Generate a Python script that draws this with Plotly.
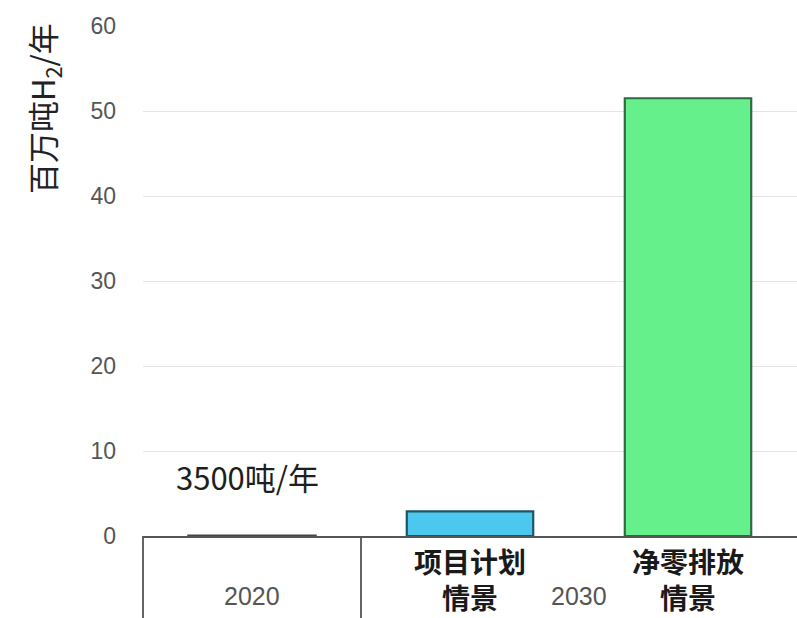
import plotly.graph_objects as go

# Electrolytic hydrogen output, million tonnes H2 per year
categories = ["2020", "项目计划情景", "净零排放情景"]
values = [0.0035, 2.9, 51.5]
scenario_labels = ["", "项目计划<br>情景", "净零排放<br>情景"]
group_labels = ["2020", "2030"]
group_centers = [0, 1.5]
y_ticks = [0, 10, 20, 30, 40, 50, 60]
label_2020 = "3500吨/年"

fill_colors = ["#6a6a6a", "#4cc8ef", "#66f08b"]
line_colors = ["#444444", "#1f5563", "#2f6a40"]
line_widths = [3, 2.2, 2.2]

FONT = "Liberation Sans, Arial, Noto Sans CJK SC, sans-serif"
CJK = "Noto Sans CJK SC, Liberation Sans, sans-serif"

fig = go.Figure(
    go.Bar(
        x=categories,
        y=values,
        width=0.58,
        marker=dict(color=fill_colors, line=dict(color=line_colors, width=line_widths)),
        showlegend=False,
    )
)

W, H = 797, 618
ml, mr, mt, mb = 143, 0, 26, 82
plot_h = H - mt - mb


def py(pixel_y):
    """Convert a page pixel row to paper y."""
    return (H - mb - pixel_y) / plot_h


annotations = []
for i, lab in enumerate(scenario_labels):
    if lab:
        annotations.append(dict(x=i, xref="x", y=py(579), yref="paper",
                                text="<br>".join(f"<b>{part}</b>" for part in lab.split("<br>")),
                                showarrow=False, yanchor="middle",
                                font=dict(family=CJK, size=28, color="#1a1a1a")))

for lab, pos in zip(group_labels, group_centers):
    annotations.append(dict(x=pos, xref="x", y=py(596), yref="paper", text=lab,
                            showarrow=False, yanchor="middle",
                            font=dict(family=FONT, size=25, color="#555555")))

annotations.append(dict(x=0, xref="x", y=7.0, yref="y", text=label_2020,
                        showarrow=False, xshift=-5, yanchor="middle",
                        font=dict(family=CJK, size=31, color="#1e1e1e")))

annotations.append(dict(x=(44 - ml) / (W - ml - mr), xref="paper", y=py(109), yref="paper",
                        text="百万吨H<sub>2</sub>/年", textangle=-90, showarrow=False,
                        xanchor="center", yanchor="middle",
                        font=dict(family=CJK, size=31, color="#222222")))

shapes = []
for xf in [0, 1 / 3]:
    shapes.append(dict(type="line", xref="paper", yref="paper", x0=xf, x1=xf,
                       y0=0, y1=py(H + 2), line=dict(color="#555555", width=1.8)))

fig.update_layout(
    width=W,
    height=H,
    margin=dict(l=ml, r=mr, t=mt, b=mb),
    paper_bgcolor="white",
    plot_bgcolor="white",
    annotations=annotations,
    shapes=shapes,
    xaxis=dict(
        type="category",
        categoryorder="array",
        categoryarray=categories,
        range=[-0.5, 2.5],
        showticklabels=False,
        showgrid=False,
        showline=True,
        linecolor="#555555",
        linewidth=1.8,
        ticks="",
        fixedrange=True,
    ),
    yaxis=dict(
        range=[0, 60],
        tickvals=y_ticks,
        showgrid=True,
        gridcolor="#e4e4e4",
        gridwidth=1,
        zeroline=False,
        showline=False,
        ticks="",
        ticklabelstandoff=26,
        tickfont=dict(family=FONT, size=23, color="#555555"),
        fixedrange=True,
    ),
)

fig.write_html("out.html")
